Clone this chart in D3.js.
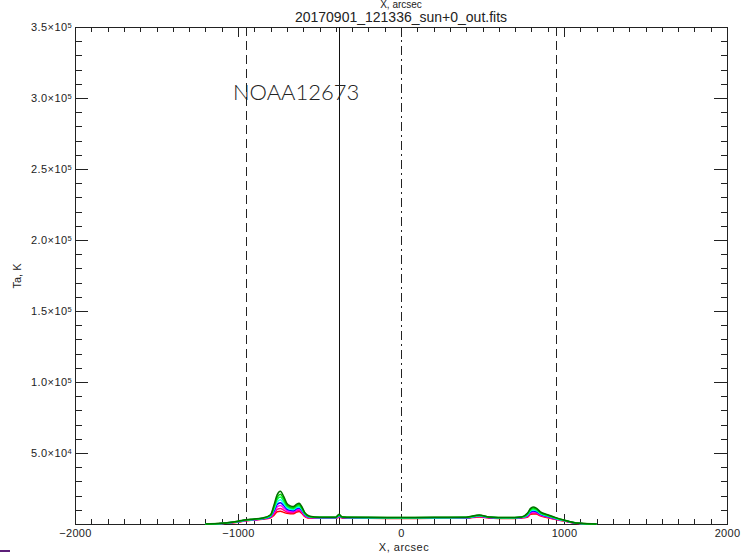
<!DOCTYPE html>
<html>
<head>
<meta charset="utf-8">
<script src="https://cdn.jsdelivr.net/npm/d3@7"></script>
<style>
  body { margin: 0; background: #fff; }
  svg text { font-family: "Liberation Sans", Arial, sans-serif; fill: #222; }
</style>
</head>
<body>
<div id="chart"></div>
<script>
// data: X in arcsec, Ta in K
var xGrid = [-1200, -1100, -1000, -950, -900, -850, -800, -780, -760, -740, -720, -700, -680, -660, -640, -625, -610, -590, -560, -500,
             -400, -380, -360, -200, 0, 200, 400, 480, 540, 650, 740, 775, 795, 810, 830, 855, 900, 950, 1000, 1050, 1100, 1200];

var scan1 = [0, 500, 2000, 3000, 3500, 4200, 6500, 13000, 20500, 23000, 19500, 14500, 12800, 12300, 14000, 14600, 12500, 8000, 5500, 4800,
             4800, 6800, 5000, 4700, 4600, 4700, 4800, 6400, 5000, 4600, 5000, 7500, 11000, 12000, 11200, 8500, 6500, 4500, 2800, 1300, 500, 0];
var scan2 = [0, 450, 1900, 2900, 3400, 4000, 6200, 12000, 18800, 21000, 17800, 13500, 12000, 11500, 13200, 13700, 11800, 7600, 5300, 4700,
             4700, 6500, 4900, 4600, 4500, 4600, 4700, 6200, 4900, 4500, 4900, 7100, 10400, 11300, 10600, 8100, 6200, 4300, 2700, 1250, 450, 0];
var scan3 = [0, 400, 1800, 2800, 3300, 3900, 5900, 11000, 17100, 19000, 16200, 12500, 11200, 10800, 12400, 12800, 11100, 7200, 5100, 4600,
             4600, 6200, 4800, 4500, 4400, 4500, 4600, 6000, 4800, 4400, 4800, 6700, 9800, 10600, 10000, 7700, 5900, 4100, 2600, 1200, 400, 0];
var scan4 = [0, 380, 1700, 2700, 3200, 3800, 5600, 10000, 15400, 17000, 14600, 11500, 10400, 10100, 11600, 12000, 10400, 6800, 4900, 4500,
             4500, 5900, 4700, 4400, 4300, 4400, 4500, 5800, 4700, 4300, 4700, 6300, 9200, 9900, 9400, 7300, 5600, 3900, 2500, 1150, 380, 0];
var scan5 = [0, 350, 1600, 2600, 3100, 3700, 5300, 9000, 13700, 15000, 13000, 10500, 9600, 9400, 10800, 11200, 9700, 6400, 4700, 4400,
             4400, 5600, 4600, 4300, 4200, 4300, 4400, 5600, 4600, 4200, 4600, 5900, 8600, 9200, 8800, 6900, 5300, 3700, 2400, 1100, 350, 0];
var scan6 = [0, 320, 1500, 2500, 3000, 3600, 5000, 8000, 12000, 13000, 11400, 9500, 8800, 8700, 10000, 10400, 9000, 6000, 4500, 4300,
             4300, 5300, 4500, 4200, 4100, 4200, 4300, 5400, 4500, 4100, 4500, 5500, 8000, 8500, 8200, 6500, 5000, 3500, 2300, 1050, 320, 0];
var scan7 = [0, 300, 1400, 2400, 2900, 3500, 4700, 7000, 10300, 11000, 9800, 8500, 8000, 8000, 9200, 9600, 8300, 5600, 4300, 4200,
             4200, 5000, 4400, 4100, 4000, 4100, 4200, 5200, 4400, 4000, 4400, 5100, 7400, 7800, 7600, 6100, 4700, 3300, 2200, 1000, 300, 0];
var scan8 = [0, 280, 1300, 2300, 2800, 3400, 4400, 6000, 8600, 9000, 8200, 7500, 7200, 7300, 8400, 8800, 7600, 5200, 4100, 4100,
             4100, 4700, 4300, 4000, 3900, 4000, 4100, 5000, 4300, 3900, 4300, 4700, 6800, 7100, 7000, 5700, 4400, 3100, 2100, 950, 280, 0];

var scans = [scan1, scan2, scan3, scan4, scan5, scan6, scan7, scan8];
var scanColors = ["#007000", "#00d000", "#00ff40", "#00ffff", "#0000ff", "#ff00ff", "#ff0080", "#ff0000"];

var xMajor = [-2000, -1000, 0, 1000, 2000];
var yMajor = [50000, 100000, 150000, 200000, 250000, 300000, 350000];

// vertical marker lines (limbs, region, centre)
var limbLines = [-952, 952];
var regionLine = -378;
var centreLine = 0;

var titleText = "20170901_121336_sun+0_out.fits";
var regionLabel = "NOAA12673";

//plot box (names chosen so they don't clash with window.top)
var width = 741, height = 553;
var plotLeft = 75, plotRight = 727, plotTop = 27, plotBottom = 524;

var svg = d3.select("#chart").append("svg")
    .attr("width", width)
    .attr("height", height);

var x = d3.scaleLinear().domain([-2000, 2000]).range([plotLeft, plotRight]);
var y = d3.scaleLinear().domain([0, 350000]).range([plotBottom, plotTop]);

//minor tick values
var xMinor = d3.range(-2000, 2001, 100).filter(function(v) { return v % 1000 !== 0; });
var yMinor = d3.range(0, 350001, 10000).filter(function(v) { return v % 50000 !== 0; });

// exponent labels like 3.5x10^5
function sciLabel(sel) {
    sel.each(function(v) {
        var t = d3.select(this);
        var e = Math.floor(Math.log10(v));
        var m = (v / Math.pow(10, e)).toFixed(1);
        t.text(null);
        t.append("tspan").text(m + "\u00d710");
        t.append("tspan").attr("dy", "-0.45em").style("font-size", "7.5px").text(e);
    });
}

function drawAxis(gen, tx, ty) {
    var g = svg.append("g").attr("transform", "translate(" + tx + "," + ty + ")").call(gen);
    g.select(".domain").remove();
    g.selectAll("line").attr("stroke", "#222").attr("shape-rendering", "crispEdges");
    return g;
}

// bottom axis
drawAxis(d3.axisBottom(x).tickValues(xMinor).tickSize(-5).tickFormat(""), 0, plotBottom);
var xb = drawAxis(d3.axisBottom(x).tickValues(xMajor).tickSize(-10).tickPadding(5).tickFormat(d3.format("d")), 0, plotBottom);
xb.selectAll("text").style("font-size", "11px").style("letter-spacing", "0.3px").attr("fill", "#222");

// top axis, ticks only
drawAxis(d3.axisTop(x).tickValues(xMinor).tickSize(-5).tickFormat(""), 0, plotTop);
drawAxis(d3.axisTop(x).tickValues(xMajor).tickSize(-10).tickFormat(""), 0, plotTop);

// left axis
drawAxis(d3.axisLeft(y).tickValues(yMinor).tickSize(-6.5).tickFormat(""), plotLeft, 0);
var yl = drawAxis(d3.axisLeft(y).tickValues(yMajor).tickSize(-13).tickPadding(3), plotLeft, 0);
yl.selectAll("text").style("font-size", "11px").style("letter-spacing", "0.4px").attr("fill", "#222").call(sciLabel);

// right axis, ticks only
drawAxis(d3.axisRight(y).tickValues(yMinor).tickSize(-6.5).tickFormat(""), plotRight, 0);
drawAxis(d3.axisRight(y).tickValues(yMajor).tickSize(-13).tickFormat(""), plotRight, 0);

// frame
svg.append("rect")
    .attr("x", plotLeft).attr("y", plotTop)
    .attr("width", plotRight - plotLeft).attr("height", plotBottom - plotTop)
    .attr("fill", "none").attr("stroke", "#222").attr("stroke-width", 1)
    .attr("shape-rendering", "crispEdges");

// vertical lines
svg.selectAll(".limb").data(limbLines).enter().append("line")
    .attr("class", "limb")
    .attr("x1", function(d) { return Math.round(x(d)) + 0.5; })
    .attr("x2", function(d) { return Math.round(x(d)) + 0.5; })
    .attr("y1", plotTop).attr("y2", plotBottom)
    .attr("stroke", "#222").attr("stroke-dasharray", "9,5");

svg.append("line")
    .attr("x1", Math.round(x(regionLine)) + 0.5).attr("x2", Math.round(x(regionLine)) + 0.5)
    .attr("y1", plotTop).attr("y2", plotBottom)
    .attr("stroke", "#111");

svg.append("line")
    .attr("x1", Math.round(x(centreLine)) + 0.5).attr("x2", Math.round(x(centreLine)) + 0.5)
    .attr("y1", plotTop).attr("y2", plotBottom)
    .attr("stroke", "#222").attr("stroke-dasharray", "9,4,2,4");

// scans, inner ones first so the green envelope stays on top at the baseline
var line = d3.line()
    .x(function(d, i) { return x(xGrid[i]); })
    .y(function(d) { return y(d); })
    .curve(d3.curveMonotoneX);

var scanOrder = d3.range(scans.length).reverse();

svg.selectAll(".scan").data(scanOrder).enter().append("path")
    .attr("class", "scan")
    .attr("d", function(k) { return line(scans[k]); })
    .attr("fill", "none")
    .attr("stroke", function(k) { return scanColors[k]; })
    .attr("stroke-width", 1.5);

// texts
svg.append("text")
    .attr("x", (plotLeft + plotRight) / 2).attr("y", 22)
    .attr("text-anchor", "middle")
    .style("font-size", "14px")
    .text(titleText);

svg.append("text")
    .attr("x", (plotLeft + plotRight) / 2).attr("y", 8)
    .attr("text-anchor", "middle")
    .style("font-size", "10px")
    .text("X, arcsec");

svg.append("text")
    .attr("x", 404).attr("y", 551)
    .attr("text-anchor", "middle")
    .style("font-size", "11px").style("letter-spacing", "0.5px")
    .text("X, arcsec");

svg.append("text")
    .attr("transform", "translate(21,276) rotate(-90)")
    .attr("text-anchor", "middle")
    .style("font-size", "11px")
    .text("Ta, K");

svg.append("text")
    .attr("x", 233).attr("y", 100)
    .style("font-family", "Lato, 'Liberation Sans', sans-serif")
    .style("font-weight", 300)
    .style("font-size", "22px")
    .attr("fill", "#333")
    .text(regionLabel);

// small purple mark at the lower left corner
svg.append("rect")
    .attr("x", 0).attr("y", 550).attr("width", 10).attr("height", 2)
    .attr("fill", "#5c1f78");
</script>
</body>
</html>
